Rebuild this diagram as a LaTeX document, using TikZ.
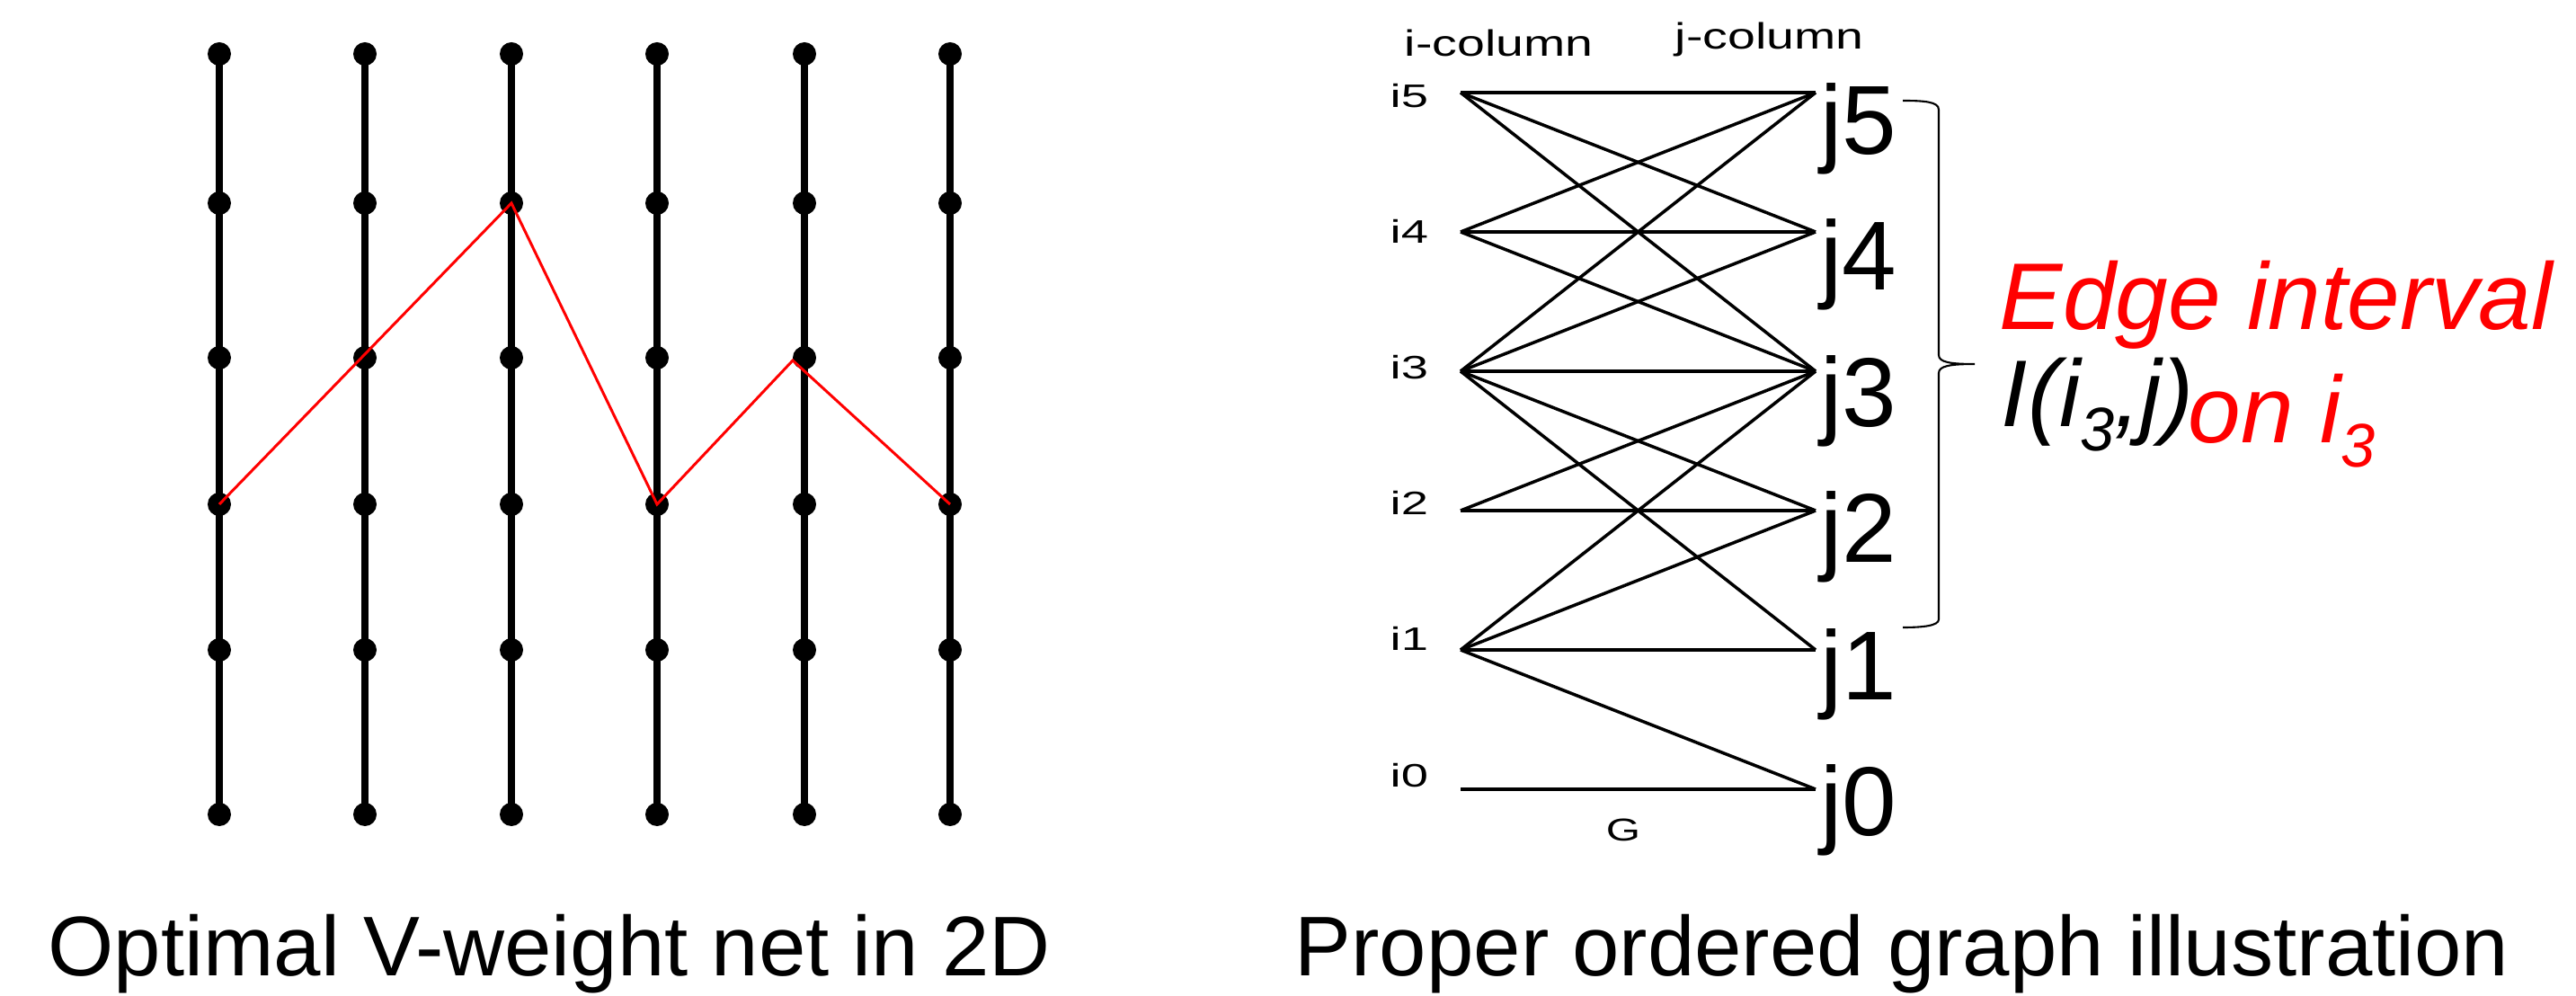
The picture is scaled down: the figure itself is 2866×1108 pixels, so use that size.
\documentclass[tikz,border=0pt]{standalone}
\usepackage{fontspec}
\setmainfont{Liberation Sans}
\usepackage{graphicx}
\usetikzlibrary{shapes.geometric}
\begin{document}
\begin{tikzpicture}[x=0.1mm,y=-0.1mm,
  dot/.style={circle,fill=black,inner sep=0pt,minimum size=2.6mm},
  colline/.style={line width=2pt},
  redpath/.style={draw=red,line width=0.85pt,line join=miter},
  gedge/.style={line width=1pt},
  bracepath/.style={line width=0.6pt},
  ilab/.style={anchor=base west,inner sep=0pt,font=\fontsize{10.3}{11}\selectfont},
  jlab/.style={anchor=base west,inner sep=0pt,font=\fontsize{31}{31}\selectfont},
  head/.style={anchor=base west,inner sep=0pt,font=\fontsize{11.6}{12}\selectfont},
  caption/.style={anchor=base west,inner sep=0pt,font=\fontsize{26.8}{27}\selectfont},
  bigit/.style={anchor=base west,inner sep=0pt,font=\fontsize{30}{30}\selectfont\itshape}
]
\useasboundingbox (0,0) rectangle (2866,1108);

% ---------- left: grid ----------
\foreach \c/\x in {0/244,1/406,2/569,3/731,4/895,5/1057} {
  \foreach \r/\y in {0/60,1/226,2/398,3/561,4/723,5/906} {
    \node[dot] (d\c\r) at (\x,\y) {};
  }
  \draw[colline] (d\c0.center) -- (d\c5.center);
}
\coordinate (rA) at (882,401);
\draw[redpath] (d03.center) -- (d21.center) -- (d33.center) -- (rA) -- (d53.center);

\node[caption] (cap1) at (53,1085) {Optimal V-weight net in 2D};

% ---------- right: ordered graph ----------
\foreach \k/\y in {5/103,4/258,3/413,2/568,1/723,0/878} {
  \coordinate (i\k) at (1625,\y);
  \coordinate (j\k) at (2020,\y);
}
\foreach \a/\b in {5/5,5/4,5/3,4/5,4/4,4/3,3/5,3/4,3/3,3/2,3/1,2/3,2/2,1/3,1/2,1/1,1/0,0/0} {
  \draw[gedge] (i\a) -- (j\b);
}

\foreach \k/\y in {5/120,4/271,3/422,2/573,1/724,0/875} {
  \node[ilab] (li\k) at (1546,\y) {\scalebox{1.5}[1]{i\k}};
}
\foreach \k/\y in {5/172,4/323,3/475,2/626,1/778,0/929} {
  \node[jlab] (lj\k) at (2025,\y) {j\k};
}

\node[head] (icol) at (1562,63) {\scalebox{1.36}[1]{i-column}};
\node[head] (jcol) at (1863,55) {\scalebox{1.36}[1]{j-column}};
\node[anchor=base,inner sep=0pt,font=\fontsize{10}{11}\selectfont] (G) at (1806,935) {\scalebox{1.4}[1]{G}};

% brace
\draw[bracepath] (2117,112) .. controls (2140,112) and (2157,113) .. (2157,122)
  -- (2157,395) .. controls (2157,403) and (2170,405) .. (2197,405)
  .. controls (2170,405) and (2157,407) .. (2157,415)
  -- (2157,689) .. controls (2157,696) and (2140,698) .. (2117,698);

\node[bigit,text=red] (edge) at (2224,367) {Edge interval};
\node[bigit] (iij) at (2226,475) {I(i\raisebox{-0.25em}{\scalebox{0.65}{3}},j)};
\node[bigit,text=red] (oni) at (2434,493) {on i\raisebox{-0.25em}{\scalebox{0.65}{3}}};

\node[caption] (cap2) at (1440,1085) {Proper ordered graph illustration};
\end{tikzpicture}
\end{document}
